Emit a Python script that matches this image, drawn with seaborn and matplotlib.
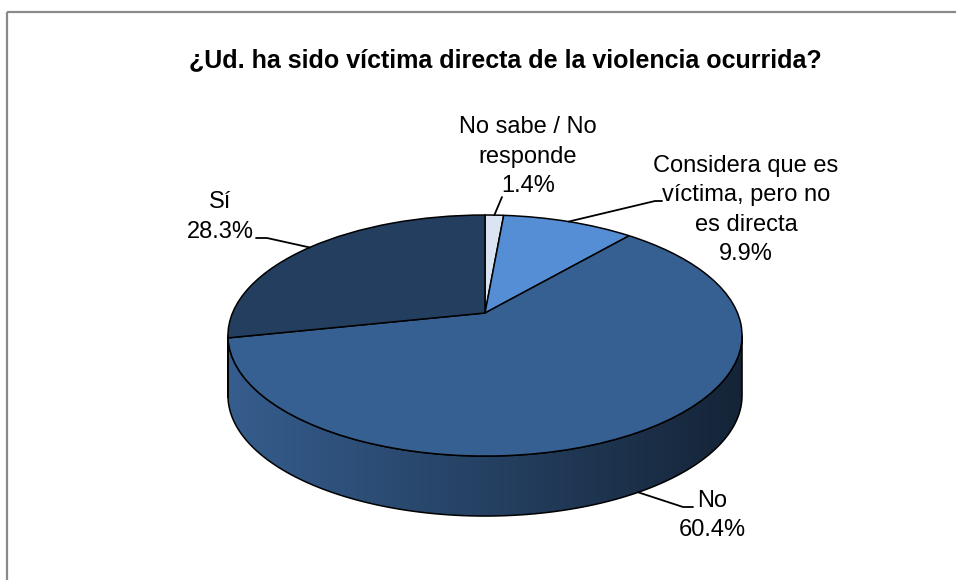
import numpy as np
import matplotlib
matplotlib.use("Agg")
import matplotlib.pyplot as plt
import seaborn as sns
from matplotlib.transforms import Transform
from matplotlib.patches import Polygon, Rectangle

# datos
categorias = ["No sabe / No responde", "Considera que es víctima, pero no es directa", "No", "Sí"]
porcentajes = [1.4, 9.9, 60.4, 28.3]
lineas_etiqueta = [
    ["No sabe / No", "responde", "1.4%"],
    ["Considera que es", "víctima, pero no", "es directa", "9.9%"],
    ["No", "60.4%"],
    ["Sí", "28.3%"],
]
colores = ["#dbe5f1", "#558ed5", "#376092", "#243e60"]
titulo = "¿Ud. ha sido víctima directa de la violencia ocurrida?"

sns.set_style("white")
plt.rcParams["font.family"] = ["Liberation Sans Narrow", "Liberation Sans", "DejaVu Sans"]
plt.rcParams["text.color"] = "black"

# geometría de la "torta 3D" (en pixeles)
CX, CY = 485, 313      # vértice
SX, SY = 252.5, 116.3  # escalas
K = 0.187              # perspectiva
DEPTH = 60


class Tilt(Transform):
    input_dims = output_dims = 2
    is_separable = False
    has_inverse = False

    def __init__(self, dy=0):
        super().__init__()
        self.dy = dy

    def transform_non_affine(self, v):
        v = np.asarray(v, float)
        w = 1 + K * v[:, 1]
        return np.column_stack([CX + SX * v[:, 0] / w, CY - SY * v[:, 1] / w + self.dy])


def proj(t, dy=0):
    t = np.radians(t)
    pts = np.column_stack([np.cos(t), np.sin(t)])
    return Tilt(dy).transform_non_affine(pts)


fig = plt.figure(figsize=(9.56, 5.8), dpi=100)
ax = fig.add_axes([0, 0, 1, 1])

wedges, _ = ax.pie(porcentajes, colors=colores, startangle=90, counterclock=False,
                   wedgeprops=dict(edgecolor="black", linewidth=1.1))
for w in wedges:
    w.set_transform(Tilt() + ax.transData)
    w.set_zorder(5)

# pared lateral
a_izq = 180 + np.degrees(np.arcsin(K)) - 360
a_der = -np.degrees(np.arcsin(K))
xs = np.linspace(220, 750, 300)
f = np.clip(0.97 - (xs - 227) / (741 - 227) * 0.59, 0.35, 1)
for w, col in zip(wedges, colores):
    base = np.array(matplotlib.colors.to_rgb(col))
    for sh in (-360, 0, 360):
        a = max(w.theta1 + sh, a_izq)
        b = min(w.theta2 + sh, a_der)
        if b <= a:
            continue
        t = np.linspace(a, b, 120)
        verts = np.vstack([proj(t), proj(t[::-1], DEPTH)])
        poly = Polygon(verts, closed=True, facecolor="none", edgecolor="black",
                       linewidth=1.1, zorder=3)
        ax.add_patch(poly)
        img = (base[None, :] * f[:, None])[None, :, :]
        im = ax.imshow(img, extent=(220, 750, 530, 300), aspect="auto", zorder=2)
        im.set_clip_path(poly)

# etiquetas
pos_texto = [(528, 133), (746, 172), (712, 507), (220, 208)]
for lines, (tx, ty) in zip(lineas_etiqueta, pos_texto):
    for i, ln in enumerate(lines):
        ax.text(tx, ty + i * 29.5, ln, ha="center", va="baseline", fontsize=17)

# líneas guía
medios = [(w.theta1 + w.theta2) / 2 for w in wedges]
p = [proj([m])[0] for m in medios]
p[2] = proj([medios[2]], DEPTH)[0]
guias = [
    [(502, 197)],
    [(655, 201), (662, 201)],
    [(683, 507), (693, 507)],
    [(267, 238), (256, 238)],
]
for p0, rest in zip(p, guias):
    pts = np.array([p0] + rest)
    ax.plot(pts[:, 0], pts[:, 1], color="black", lw=1.3, zorder=6)

ax.text(505, 67, titulo, ha="center", va="baseline", fontsize=18, fontweight="bold")

ax.add_patch(Rectangle((7, 12), 1000, 600, fill=False, edgecolor="#8a8a8a", linewidth=1.6, zorder=7))

ax.set_aspect("auto")
ax.set_xlim(0, 956)
ax.set_ylim(580, 0)
ax.axis("off")

fig.savefig("out.png", dpi=100)
